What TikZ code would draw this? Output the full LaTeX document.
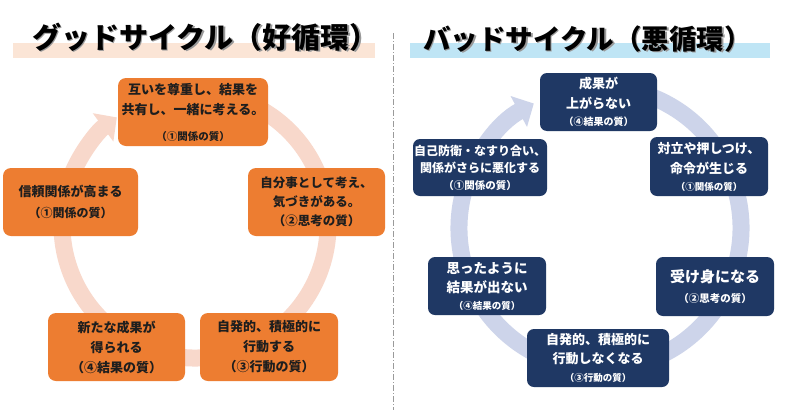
\documentclass[tikz,border=0pt]{standalone}
\usepackage{fontspec}
\newfontfamily\jp{Noto Sans CJK JP}
\usetikzlibrary{arrows.meta}
\definecolor{gorange}{HTML}{ED7D31}
\definecolor{gtext}{HTML}{1E1E1E}
\definecolor{gring}{HTML}{F8D8CB}
\definecolor{gband}{HTML}{FBE5D6}
\definecolor{navy}{HTML}{1F3864}
\definecolor{bring}{HTML}{CDD4EA}
\definecolor{bband}{HTML}{BFE5F5}
\definecolor{sepgray}{HTML}{9A9A9A}
\newcommand{\fs}[2]{\fontsize{#1}{#2}\selectfont}
\begin{document}
\begin{tikzpicture}[x=1pt,y=-1pt,
  gbox/.style={fill=gorange, rounded corners=8pt, text=gtext, align=center, inner sep=0pt},
  nbox/.style={fill=navy, rounded corners=7pt, text=white, align=center, inner sep=0pt},
  ttl/.style={anchor=west, inner sep=0pt, text=black},
  shd/.style={anchor=west, inner sep=0pt, text=black!40},
  ringg/.style={draw=gring, line width=17pt, -{Triangle[width=34pt,length=17pt]}},
  ringb/.style={draw=bring, line width=17pt, -{Triangle[width=34pt,length=17pt]}},
  sepline/.style={draw=sepgray, line width=0.8pt, dash pattern=on 6pt off 2pt on 1pt off 2pt}]
\useasboundingbox (0,0) rectangle (800,410);
\fill[white] (0,0) rectangle (800,410);

% bands
\fill[gband] (13,43) rectangle (375,58);
\fill[bband] (410,43) rectangle (770,58);

% titles
\node[shd, font=\jp\bfseries\fs{29}{30}] (gts) at (33.5,38.5) {グッドサイクル（好循環）};
\node[ttl, font=\jp\bfseries\fs{29}{30}] (gt) at (32,37) {グッドサイクル（好循環）};
\node[shd, font=\jp\bfseries\fs{27.5}{30}] (bts) at (424.5,40.5) {バッドサイクル（悪循環）};
\node[ttl, font=\jp\bfseries\fs{27.5}{30}] (bt) at (423,39) {バッドサイクル（悪循環）};

% separator
\coordinate (s1) at (393,33);
\coordinate (s2) at (393,410);
\draw[sepline] (s1) -- (s2);

% rings
\coordinate (gc) at (195,225);
\coordinate (bc) at (600,228);
\draw[ringg] (gc) ++(-65:133) arc[start angle=-65, end angle=234, radius=133];
\draw[ringb] (bc) ++(-75:141) arc[start angle=-75, end angle=242, radius=141];

% good cycle boxes
\node[gbox, font=\jp\bfseries\fs{13}{20}, minimum width=150, minimum height=68] (g1) at (193,112)
  {互いを尊重し、結果を\\共有し、一緒に考える。\\[6pt]\fs{10.5}{20}（①関係の質）};
\node[gbox, font=\jp\bfseries\fs{12.5}{19}, minimum width=137, minimum height=68] (g2) at (316.5,202)
  {自分事として考え、\\気づきがある。\\（②思考の質）};
\node[gbox, font=\jp\bfseries\fs{13}{20}, minimum width=138, minimum height=68] (g3) at (269,347)
  {自発的、積極的に\\行動する\\（③行動の質）};
\node[gbox, font=\jp\bfseries\fs{13}{20}, minimum width=137, minimum height=68] (g4) at (116.5,347)
  {新たな成果が\\得られる\\（④結果の質）};
\node[gbox, font=\jp\bfseries\fs{13}{21}, minimum width=135, minimum height=68] (g5) at (70.5,202)
  {信頼関係が高まる\\\fs{12}{21}（①関係の質）};

% bad cycle boxes
\node[nbox, font=\jp\bfseries\fs{13}{20}, minimum width=117, minimum height=58] (b1) at (598.5,102)
  {成果が\\上がらない\\[-3pt]\fs{10}{20}（④結果の質）};
\node[nbox, font=\jp\bfseries\fs{13}{20}, minimum width=118, minimum height=59] (b2) at (709,166.5)
  {対立や押しつけ、\\命令が生じる\\[-3pt]\fs{9.5}{20}（①関係の質）};
\node[nbox, font=\jp\bfseries\fs{15}{20}, minimum width=118, minimum height=59] (b3) at (715,286.5)
  {受け身になる\\\fs{10.5}{20}（②思考の質）};
\node[nbox, font=\jp\bfseries\fs{13}{19}, minimum width=142, minimum height=58] (b4) at (598,358)
  {自発的、積極的に\\行動しなくなる\\[-1pt]\fs{9.5}{19}（③行動の質）};
\node[nbox, font=\jp\bfseries\fs{13.5}{19}, minimum width=118, minimum height=58] (b5) at (487,286)
  {思ったように\\結果が出ない\\[-2pt]\fs{9.5}{19}（④結果の質）};
\node[nbox, font=\jp\bfseries\fs{12}{17}, minimum width=134, minimum height=57] (b6) at (480,167.5)
  {自己防衛・なすり合い、\\関係がさらに悪化する\\\fs{10.5}{17}（①関係の質）};
\end{tikzpicture}
\end{document}
